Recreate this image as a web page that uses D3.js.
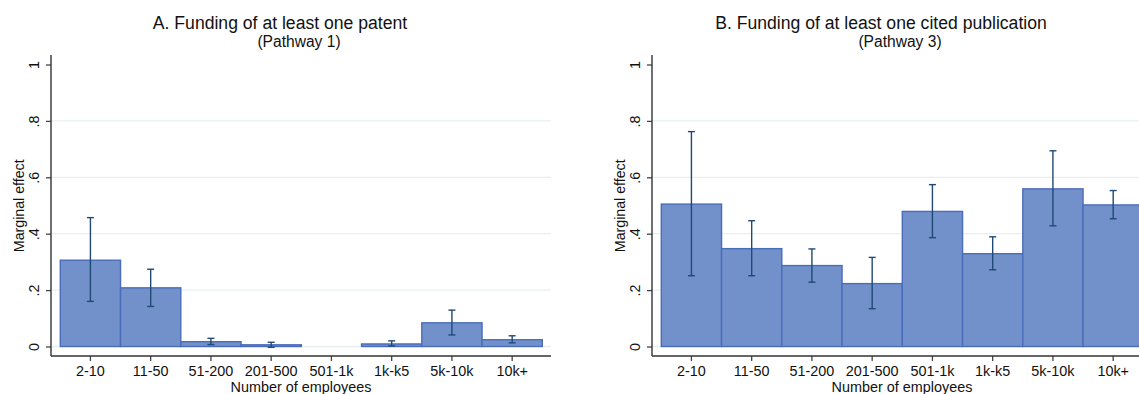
<!DOCTYPE html>
<html>
<head>
<meta charset="utf-8">
<script src="https://cdn.jsdelivr.net/npm/d3@7"></script>
<style>
  html, body { margin: 0; padding: 0; background: #fff; }
  svg { display: block; }
</style>
</head>
<body>
<svg id="chart"></svg>
<script>
// categories on the x axis
const categories = ['2-10', '11-50', '51-200', '201-500', '501-1k', '1k-k5', '5k-10k', '10k+'];

// Panel A: at least one patent (Pathway 1)
const patentEffect = [0.306, 0.208, 0.017, 0.006, null, 0.009, 0.084, 0.024];
const patentLow    = [0.160, 0.142, 0.007, -0.003, null, 0.002, 0.041, 0.013];
const patentHigh   = [0.457, 0.274, 0.029, 0.015, null, 0.020, 0.129, 0.038];

// Panel B: at least one cited publication (Pathway 3)
const pubEffect = [0.505, 0.347, 0.287, 0.223, 0.479, 0.329, 0.559, 0.502];
const pubLow    = [0.251, 0.251, 0.228, 0.134, 0.386, 0.272, 0.428, 0.453];
const pubHigh   = [0.762, 0.446, 0.346, 0.316, 0.574, 0.389, 0.694, 0.553];

const yTicks = [0, 0.2, 0.4, 0.6, 0.8, 1];
const yTickLabels = ['0', '.2', '.4', '.6', '.8', '1'];
const gridTicks = [0, 0.2, 0.4, 0.6, 0.8];

const width = 1139;
const height = 394;
const font = 'Liberation Sans, Arial, Helvetica, sans-serif';

const svg = d3.select('#chart')
  .attr('width', width)
  .attr('height', height)
  .attr('font-family', font);

const panels = [
  { dx: 0, title: 'A. Funding of at least one patent', sub: '(Pathway 1)',
    effect: patentEffect, low: patentLow, high: patentHigh },
  { dx: 601, title: 'B. Funding of at least one cited publication', sub: '(Pathway 3)',
    effect: pubEffect, low: pubLow, high: pubHigh }
];

// plot frame for one panel (panel B is shifted by dx)
const axisLeftX = 51;
const axisRightX = 551;
const axisBottomY = 356;
const axisTopY = 55;

const y = d3.scaleLinear().domain([0, 1]).range([346.5, 64.5]);

panels.forEach(p => {
  const g = svg.append('g').attr('transform', `translate(${ p.dx }, 0)`);

  const x = d3.scaleBand()
    .domain(categories)
    .range([60.3, 542.3])
    .padding(0);

  // gridlines
  g.append('g')
    .selectAll('line')
    .data(gridTicks)
    .join('line')
    .attr('x1', axisLeftX)
    .attr('x2', axisRightX)
    .attr('y1', d => y(d))
    .attr('y2', d => y(d))
    .attr('stroke', '#e8efef')
    .attr('stroke-width', 1.3);

  const rows = categories.map((c, i) => ({
    cat: c, v: p.effect[i], lo: p.low[i], hi: p.high[i]
  })).filter(d => d.v !== null);

  // bars
  g.append('g')
    .selectAll('rect')
    .data(rows)
    .join('rect')
    .attr('x', d => x(d.cat))
    .attr('y', d => y(d.v))
    .attr('width', x.bandwidth())
    .attr('height', d => y(0) - y(d.v))
    .attr('fill', '#7290ca')
    .attr('stroke', '#4a6dbb')
    .attr('stroke-width', 1.4);

  // error bars
  const eb = g.append('g')
    .attr('stroke', '#1f4a75')
    .attr('stroke-width', 1.4);
  const cx = d => x(d.cat) + x.bandwidth() / 2;

  eb.selectAll('line.v')
    .data(rows)
    .join('line')
    .attr('class', 'v')
    .attr('x1', cx).attr('x2', cx)
    .attr('y1', d => y(d.lo)).attr('y2', d => y(d.hi));

  eb.selectAll('line.hi')
    .data(rows)
    .join('line')
    .attr('class', 'hi')
    .attr('x1', d => cx(d) - 3.5).attr('x2', d => cx(d) + 3.5)
    .attr('y1', d => y(d.hi)).attr('y2', d => y(d.hi));

  eb.selectAll('line.lo')
    .data(rows)
    .join('line')
    .attr('class', 'lo')
    .attr('x1', d => cx(d) - 3.5).attr('x2', d => cx(d) + 3.5)
    .attr('y1', d => y(d.lo)).attr('y2', d => y(d.lo));

  // y axis
  const yAxis = g.append('g')
    .attr('transform', `translate(${ axisLeftX }, 0)`)
    .call(d3.axisLeft(y)
      .tickValues(yTicks)
      .tickFormat((d, i) => yTickLabels[i])
      .tickSize(5)
      .tickSizeOuter(0));
  yAxis.select('.domain').remove();
  yAxis.selectAll('.tick line').attr('stroke', '#444').attr('stroke-width', 1.3);
  yAxis.selectAll('.tick text')
    .attr('transform', 'rotate(-90)')
    .attr('x', 0)
    .attr('y', -12.4)
    .attr('dy', 0)
    .attr('text-anchor', 'middle')
    .attr('fill', '#111')
    .attr('font-family', font)
    .attr('font-size', 14.4);

  // x axis
  const xAxis = g.append('g')
    .attr('transform', `translate(0, ${ axisBottomY })`)
    .call(d3.axisBottom(x).tickSize(5).tickSizeOuter(0));
  xAxis.select('.domain').remove();
  xAxis.selectAll('.tick line').attr('stroke', '#444').attr('stroke-width', 1.3);
  xAxis.selectAll('.tick text')
    .attr('y', 20)
    .attr('dy', 0)
    .attr('fill', '#111')
    .attr('font-family', font)
    .attr('font-size', 14.4);

  // axis lines
  g.append('line')
    .attr('x1', axisLeftX).attr('x2', axisLeftX)
    .attr('y1', axisTopY).attr('y2', axisBottomY)
    .attr('stroke', '#333').attr('stroke-width', 1.4);
  g.append('line')
    .attr('x1', axisLeftX).attr('x2', axisRightX)
    .attr('y1', axisBottomY).attr('y2', axisBottomY)
    .attr('stroke', '#333').attr('stroke-width', 1.4);

  // axis titles
  const midX = (axisLeftX + axisRightX) / 2;
  g.append('text')
    .attr('x', midX)
    .attr('y', 392)
    .attr('text-anchor', 'middle')
    .attr('font-size', 14.4)
    .attr('fill', '#111')
    .text('Number of employees');

  g.append('text')
    .attr('transform', `translate(23.5, 205.8) rotate(-90)`)
    .attr('text-anchor', 'middle')
    .attr('font-size', 14.2)
    .attr('fill', '#111')
    .text('Marginal effect');

  // titles
  g.append('text')
    .attr('x', midX - 21)
    .attr('y', 28.5)
    .attr('text-anchor', 'middle')
    .attr('font-size', 17.6)
    .attr('fill', '#111')
    .text(p.title);

  g.append('text')
    .attr('x', midX - 2)
    .attr('y', 47.3)
    .attr('text-anchor', 'middle')
    .attr('font-size', 15.6)
    .attr('fill', '#111')
    .text(p.sub);
});
</script>
</body>
</html>
